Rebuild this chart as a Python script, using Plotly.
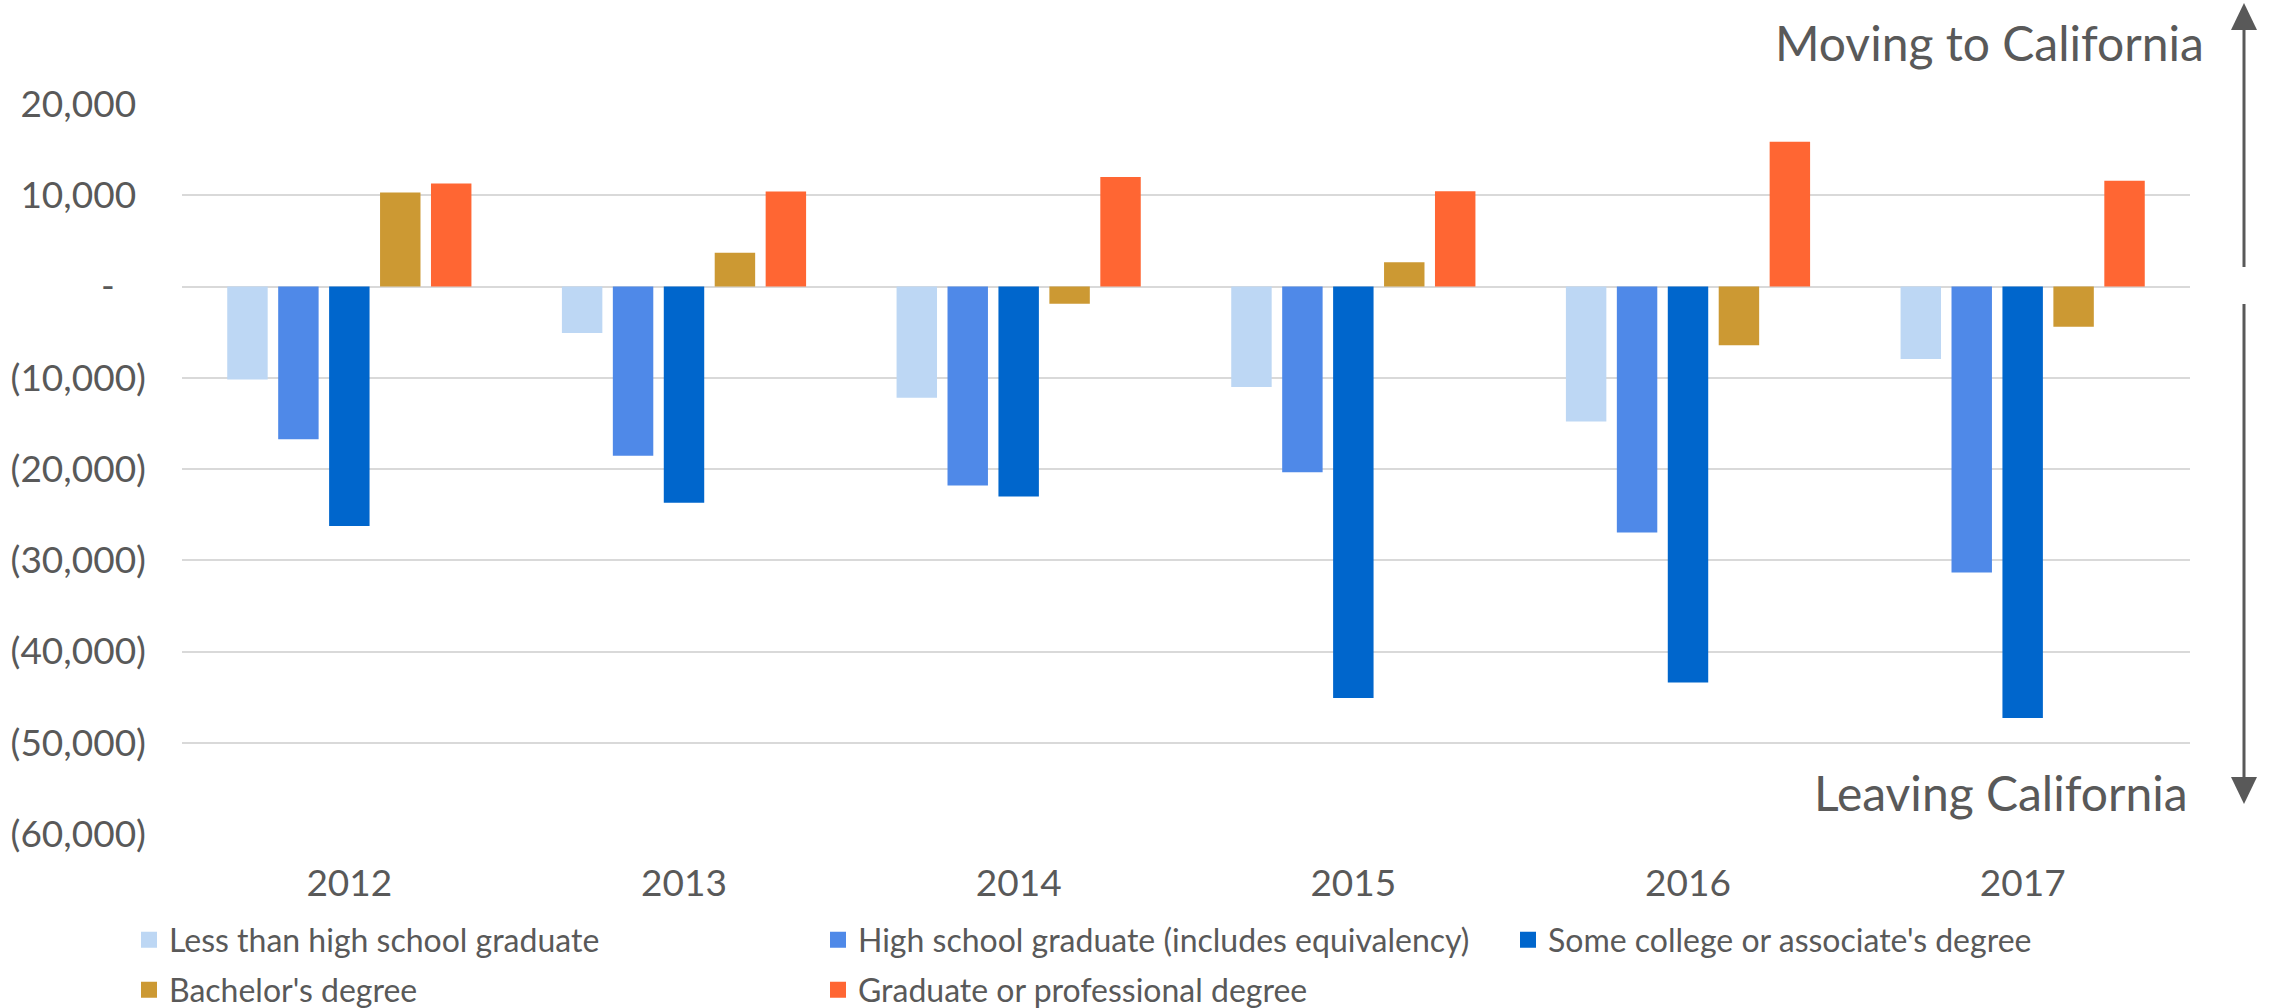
import plotly.graph_objects as go

years = ["2012", "2013", "2014", "2015", "2016", "2017"]
series_names = [
    "Less than high school graduate",
    "High school graduate (includes equivalency)",
    "Some college or associate's degree",
    "Bachelor's degree",
    "Graduate or professional degree",
]
less_than_hs = [-10200, -5100, -12200, -11000, -14800, -7950]
hs_grad = [-16750, -18550, -21800, -20350, -26950, -31350]
some_college = [-26250, -23700, -23000, -45100, -43400, -47300]
bachelors = [10300, 3700, -1900, 2650, -6450, -4400]
graduate = [11300, 10400, 12000, 10450, 15850, 11600]

series_values = [less_than_hs, hs_grad, some_college, bachelors, graduate]
colors = ["#BDD7F4", "#4F89E8", "#0066CC", "#CC9933", "#FF6633"]

tick_vals = [20000, 10000, 0, -10000, -20000, -30000, -40000, -50000, -60000]
tick_labels = ["20,000", "10,000", "-", "(10,000)", "(20,000)",
               "(30,000)", "(40,000)", "(50,000)", "(60,000)"]


def pad(label):
    # accounting-style alignment: invisible padding like Excel's number format
    if label == "-":
        return label + "<span style='color:#ffffff'>0)</span>"
    if not label.startswith("("):
        return label + "<span style='color:#ffffff'>)</span>"
    return label


tick_text = [pad(t) for t in tick_labels]

W, H = 2272, 1008
ML, MR, MT, MB = 182, 82, 104, 174
PW, PH = W - ML - MR, H - MT - MB


def px_x(p):
    return (p - ML) / PW


def px_y(p):
    return (H - MB - p) / PH


TXT = "#595959"
FONT = "Lato"

# legend slot for each series: (legend id, text-start x px, row centre y px)
legend_slots = [
    ("legend", 169, 940),
    ("legend2", 858, 940),
    ("legend3", 1548, 940),
    ("legend4", 169, 990),
    ("legend5", 858, 990),
]

fig = go.Figure()
for name, vals, col in zip(series_names, series_values, colors):
    fig.add_trace(go.Bar(
        x=years, y=vals, name=name, showlegend=False,
        marker=dict(color=col, line=dict(width=0)),
    ))
# legend entries (square swatches)
for name, col, slot in zip(series_names, colors, legend_slots):
    fig.add_trace(go.Scatter(
        x=[None], y=[None], name=name, mode="markers", legend=slot[0],
        marker=dict(symbol="square", size=17, color=col),
        hoverinfo="skip",
    ))

legends = {}
for lid, tx, ty in legend_slots:
    legends[lid] = dict(
        orientation="h", xanchor="left", yanchor="middle",
        x=px_x(tx - 40), y=px_y(ty),
        font=dict(family=FONT, size=32, color=TXT),
        bgcolor="rgba(0,0,0,0)", itemwidth=30,
    )

fig.update_layout(
    width=W, height=H,
    margin=dict(l=ML, r=MR, t=MT, b=MB, pad=0, autoexpand=False),
    paper_bgcolor="white", plot_bgcolor="white",
    barmode="group", bargap=0.239, bargroupgap=0.206,
    font=dict(family=FONT, color=TXT),
    xaxis=dict(
        showgrid=False, zeroline=False, showline=False, ticks="",
        tickfont=dict(family=FONT, size=37, color=TXT),
        ticklabelstandoff=24,
    ),
    yaxis=dict(
        range=[-60000, 20000], tickvals=tick_vals, ticktext=tick_text,
        showgrid=True, gridcolor="#D9D9D9", gridwidth=2,
        zeroline=True, zerolinecolor="#D9D9D9", zerolinewidth=2,
        showline=False, ticks="",
        tickfont=dict(family=FONT, size=37, color=TXT),
        ticklabelstandoff=35,
    ),
    showlegend=True,
    **legends,
)

# Direction annotations
fig.add_annotation(
    text="Moving to California", xref="paper", yref="paper",
    x=px_x(2206), y=px_y(42), xanchor="right", yanchor="middle",
    showarrow=False, font=dict(family=FONT, size=48, color=TXT),
)
fig.add_annotation(
    text="Leaving California", xref="paper", yref="paper",
    x=px_x(2190), y=px_y(792), xanchor="right", yanchor="middle",
    showarrow=False, font=dict(family=FONT, size=48, color=TXT),
)

# Arrows on the right
ax = px_x(2244)
hw = 13 / PW
lc = "#595959"
fig.add_shape(type="line", xref="paper", yref="paper",
              x0=ax, x1=ax, y0=px_y(28), y1=px_y(267),
              line=dict(color=lc, width=3))
fig.add_shape(type="path", xref="paper", yref="paper",
              path=f"M {ax},{px_y(3)} L {ax - hw},{px_y(30)} L {ax + hw},{px_y(30)} Z",
              fillcolor=lc, line=dict(color=lc, width=0))
fig.add_shape(type="line", xref="paper", yref="paper",
              x0=ax, x1=ax, y0=px_y(304), y1=px_y(780),
              line=dict(color=lc, width=3))
fig.add_shape(type="path", xref="paper", yref="paper",
              path=f"M {ax},{px_y(804)} L {ax - hw},{px_y(777)} L {ax + hw},{px_y(777)} Z",
              fillcolor=lc, line=dict(color=lc, width=0))

fig.write_html("out.html", config={"displayModeBar": False},
               post_script="document.body.style.margin='0';")
